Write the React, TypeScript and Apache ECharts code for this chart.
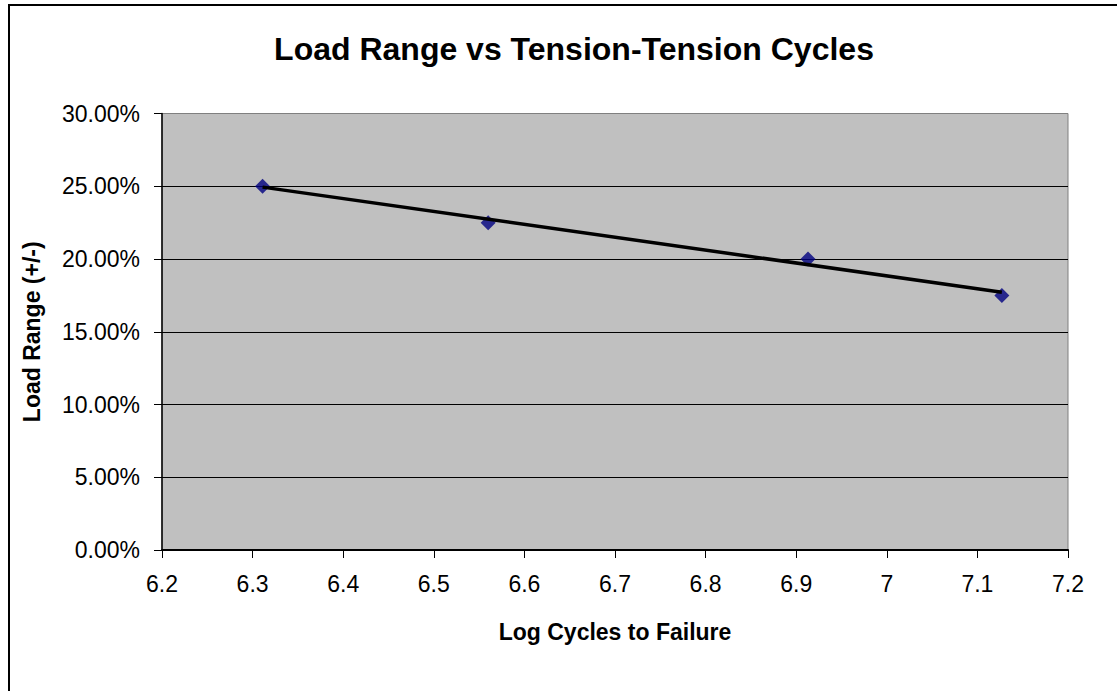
import React, { useEffect, useRef } from "react";
import * as echarts from "echarts";

const logCycles = [6.311, 6.56, 6.913, 7.127];
const loadRange = [0.25, 0.225, 0.2, 0.175];
const titleText = "Load Range vs Tension-Tension Cycles";
const xName = "Log Cycles to Failure";
const yName = "Load Range (+/-)";

const FONT = "'Liberation Sans', Arial, sans-serif";

function trend(xs: number[], ys: number[]) {
  const n = xs.length;
  const mx = xs.reduce((a, b) => a + b, 0) / n;
  const my = ys.reduce((a, b) => a + b, 0) / n;
  let sxy = 0;
  let sxx = 0;
  for (let i = 0; i < n; i++) {
    sxy += (xs[i] - mx) * (ys[i] - my);
    sxx += (xs[i] - mx) * (xs[i] - mx);
  }
  const slope = sxy / sxx;
  const b = my - slope * mx;
  const x0 = Math.min(...xs);
  const x1 = Math.max(...xs);
  return [
    [x0, slope * x0 + b],
    [x1, slope * x1 + b],
  ];
}

export default function App() {
  const ref = useRef<HTMLDivElement>(null);
  useEffect(() => {
    if (!ref.current) return;
    const chart = echarts.init(ref.current, null, { renderer: "svg" });
    const points = logCycles.map((x, i) => [x, loadRange[i]]);
    chart.setOption({
      animation: false,
      backgroundColor: "#ffffff",
      title: {
        text: titleText,
        left: 569,
        top: 28,
        textAlign: "center",
        textStyle: { fontFamily: FONT, fontSize: 32, fontWeight: "bold", color: "#000" },
      },
      graphic: [
        {
          type: "rect",
          shape: { x: 9, y: 5, width: 1300, height: 900 },
          style: { fill: "none", stroke: "#000", lineWidth: 2 },
          silent: true,
        },
      ],
      grid: {
        left: 162,
        top: 113.5,
        right: 49,
        bottom: 141,
        show: true,
        backgroundColor: "#C0C0C0",
        borderColor: "#808080",
        borderWidth: 1,
        containLabel: false,
        outerBoundsMode: "none",
      },
      xAxis: {
        type: "value",
        min: 6.2,
        max: 7.2,
        interval: 0.1,
        name: xName,
        nameLocation: "middle",
        nameGap: 70,
        nameTextStyle: { fontFamily: FONT, fontSize: 23, fontWeight: "bold", color: "#000" },
        axisLine: { show: true, onZero: false, lineStyle: { color: "#000", width: 2 } },
        axisTick: { show: true, inside: false, length: 8, lineStyle: { color: "#000", width: 1 } },
        axisLabel: {
          margin: 22,
          fontFamily: FONT,
          fontSize: 23,
          color: "#000",
          formatter: (v: number) => String(Number(v.toFixed(1))),
        },
        splitLine: { show: false },
      },
      yAxis: {
        type: "value",
        min: 0,
        max: 0.3,
        interval: 0.05,
        name: yName,
        nameLocation: "middle",
        nameRotate: 90,
        nameGap: 119,
        nameTextStyle: { fontFamily: FONT, fontSize: 23, fontWeight: "bold", color: "#000" },
        axisLine: { show: true, onZero: false, lineStyle: { color: "#000", width: 1.5 } },
        axisTick: { show: true, inside: false, length: 8, lineStyle: { color: "#000", width: 1 } },
        axisLabel: {
          margin: 22,
          fontFamily: FONT,
          fontSize: 23,
          color: "#000",
          formatter: (v: number) => (v * 100).toFixed(2) + "%",
        },
        splitLine: {
          show: true,
          showMinLine: false,
          showMaxLine: false,
          lineStyle: { color: "#000", width: 1 },
        },
      },
      series: [
        {
          type: "scatter",
          data: points,
          symbol: "diamond",
          symbolSize: 15,
          itemStyle: { color: "#000080" },
          z: 2,
        },
        {
          type: "line",
          data: trend(logCycles, loadRange),
          showSymbol: false,
          symbol: "none",
          lineStyle: { color: "#000", width: 3.5 },
          z: 3,
        },
      ],
    });
    return () => chart.dispose();
  }, []);
  return (
    <div
      ref={ref}
      style={{ position: "absolute", left: 0, top: 0, width: 1117, height: 691 }}
    />
  );
}
